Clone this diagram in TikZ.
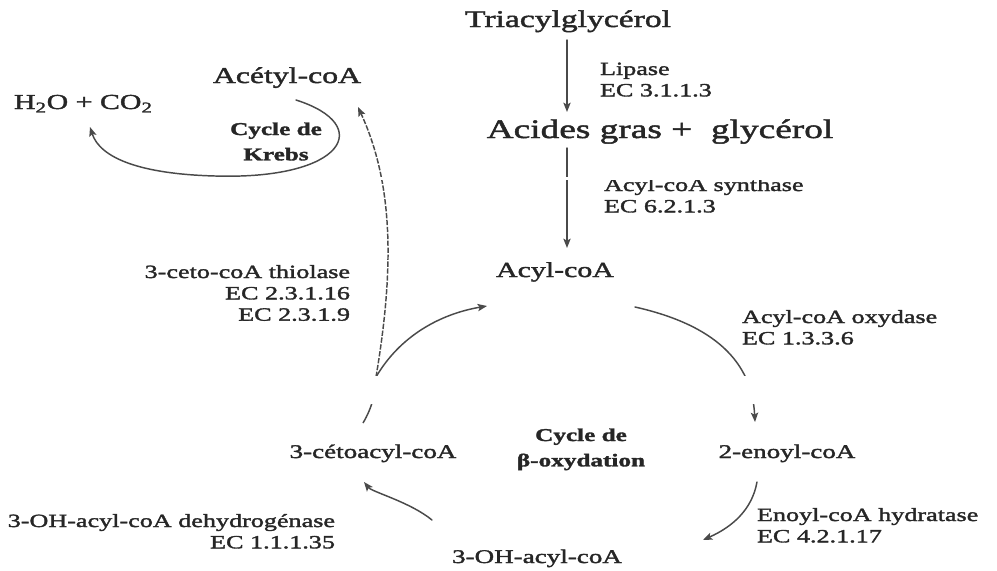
\documentclass[tikz,border=0pt]{standalone}
\usepackage{fontspec}
\setmainfont{Liberation Serif}[FakeStretch=1.4, FakeBold=1.8]
\usetikzlibrary{arrows.meta}
\definecolor{ink}{HTML}{262626}
\definecolor{wire}{HTML}{4A4A4A}
\newcommand\fs[2]{\fontsize{#1}{#2}\selectfont}
\newcommand\rows[2]{\begin{tabular}[t]{@{}#1@{}}#2\end{tabular}}

\begin{document}
\begin{tikzpicture}[x=0.75pt,y=-0.75pt,
  lbl/.style={inner sep=0pt, outer sep=0pt, text=ink},
  enz/.style={lbl, font=\fs{14}{16}},
  cpd/.style={lbl, anchor=base},
  cyc/.style={lbl, font=\bfseries\fs{13.5}{19}},
  rxn/.style={draw=wire, line width=1.1pt, line cap=round,
              -{Stealth[length=7pt,width=5.5pt,inset=1.5pt]}},
  brk/.style={draw=wire, line width=1.1pt, dash pattern=on 4pt off 1.2pt}]

\useasboundingbox (0,0) rectangle (997,571);
\fill[white] (0,0) rectangle (997,571);

% --- lipolysis and activation ---
\node[cpd, font=\fs{18}{20}] (tri) at (568,27) {Triacylglycérol};
\node[enz, anchor=base west] (lip) at (600,75) {\rows{l}{Lipase\\EC 3.1.1.3}};
\node[cpd, font=\fs{20}{22}] (acg) at (660,138) {Acides gras +\ \ glycérol};
\node[enz, anchor=base west] (acs) at (604,191) {\rows{l}{Acyl-coA synthase\\EC 6.2.1.3}};
\node[cpd, font=\fs{16}{18}] (acyl) at (555,277) {Acyl-coA};

% --- Krebs cycle ---
\node[cpd, font=\fs{17}{19}] (acet) at (287,83) {Acétyl-coA};
\node[lbl, anchor=base west, font=\fs{16}{18}] (h2o) at (14,109) {H\textsubscript{2}O + CO\textsubscript{2}};
\node[cyc, anchor=base] (krebs) at (276,135) {\rows{c}{Cycle de\\Krebs}};

% --- beta-oxidation cycle ---
\node[enz, anchor=base east] (thio) at (350,278) {\rows{r}{3-ceto-coA thiolase\\EC 2.3.1.16\\EC 2.3.1.9}};
\node[enz, anchor=base west] (oxy) at (742,323) {\rows{l}{Acyl-coA oxydase\\EC 1.3.3.6}};
\node[cpd, font=\fs{14.5}{16}] (enoyl) at (787,458) {2-enoyl-coA};
\node[cpd, font=\fs{14.5}{16}] (ceto) at (373,458) {3-cétoacyl-coA};
\node[cyc, anchor=base] (beta) at (581,441) {\rows{c}{Cycle de\\β-oxydation}};
\node[enz, anchor=base east] (dehyd) at (335,527) {\rows{r}{3-OH-acyl-coA dehydrogénase\\EC 1.1.1.35}};
\node[enz, anchor=base west] (hydr) at (757,521) {\rows{l}{Enoyl-coA hydratase\\EC 4.2.1.17}};
\node[cpd, font=\fs{14.5}{16}] (oh) at (537,563) {3-OH-acyl-coA};

\coordinate (j) at (376,377);

% --- connectors ---
\draw[rxn] ([shift={(-1,13)}]tri.base) -- ([shift={(-93,-26)}]acg.base);
\draw[rxn] ([shift={(-93,10)}]acg.base) -- ([shift={(12,-29)}]acyl.base);
\draw[rxn] ([shift={(9,17)}]acet.base)
  .. controls (375,125) and (345,180) .. (215,176)
  .. controls (140,174) and (100,158) .. ([shift={(76,18)}]h2o.base west);
\draw[draw=wire, line width=1.1pt] ([shift={(-10,-35)}]ceto.base) .. controls (372,408) and (376,392) .. (j);
\draw[brk, -{Stealth[length=7pt,width=5.5pt,inset=1.5pt]}] (j) .. controls (394,270) and (394,185) .. ([shift={(71,24)}]acet.base);
\draw[rxn] (j) .. controls (400,336) and (440,314) .. ([shift={(-68,29)}]acyl.base);
\draw[rxn] ([shift={(80,30)}]acyl.base) .. controls (715,325) and (752,362) .. ([shift={(-32,-36)}]enoyl.base);
\draw[rxn] ([shift={(-30,24)}]enoyl.base) .. controls (752,510) and (732,527) .. ([shift={(166,-23)}]oh.base);
\draw[rxn] ([shift={(-105,-43)}]oh.base) .. controls (410,502) and (372,492) .. ([shift={(-9,24)}]ceto.base);

% --- blank scan bands ---
\fill[white] (0,176.5) rectangle (997,180);
\fill[white] (0,376) rectangle (997,404);
\end{tikzpicture}
\end{document}
